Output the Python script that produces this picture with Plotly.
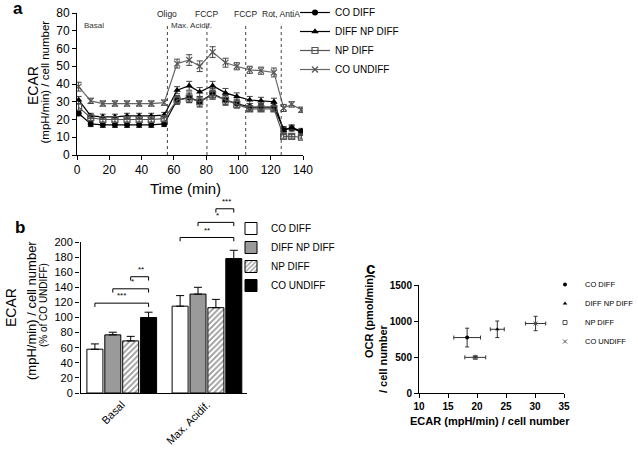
import plotly.graph_objects as go

W, H = 638, 451
FONT = "Arial, Liberation Sans, sans-serif"

# ---------------- Panel a data ----------------
time_min = [1, 8.5, 16, 23.5, 31, 38.5, 46, 54, 62, 69.5, 76, 84, 92, 99, 107, 114, 122, 128, 133, 139]
co_diff = [23.5, 17.5, 17, 17, 17, 17, 17, 17.5, 31, 32.5, 30, 34.5, 31, 29, 27, 27, 27, 14.5, 15, 13]
co_diff_err = [1.5, 1.5, 1.5, 1.5, 1.5, 1.5, 1.5, 1.5, 2.5, 3, 3, 3, 3, 2.5, 2, 2, 2, 1.5, 1.5, 1.5]
diff_np_diff = [31, 22, 21.5, 21.5, 22, 22, 22, 22.5, 36.5, 39, 35.5, 39, 35, 33, 31, 30.5, 30, 14, 15.5, 13.5]
diff_np_diff_err = [2, 1.5, 1.5, 1.5, 1.5, 1.5, 1.5, 1.5, 2, 2.5, 2.5, 2.5, 2.5, 2, 2, 2, 2, 1.5, 1.5, 1.5]
np_diff = [27, 21, 20, 20, 20, 20, 20, 20.5, 31, 32, 30, 34, 31, 28.5, 26, 26, 26, 10.5, 10.5, 10]
np_diff_err = [2, 1.5, 1.5, 1.5, 1.5, 1.5, 1.5, 1.5, 2, 2.5, 2.5, 2.5, 2.5, 2, 1.5, 1.5, 1.5, 1, 1, 1]
co_undiff = [38.5, 30.5, 29, 29, 29, 29, 29, 29.5, 51.5, 53.5, 50, 58, 52, 50, 48, 47.5, 46.5, 26.5, 28.5, 25.5]
co_undiff_err = [2.5, 1.5, 1.5, 1.5, 1.5, 1.5, 1.5, 1.5, 2.5, 3, 3, 3, 2.5, 2, 2, 2, 2.5, 2, 1.5, 1.5]
injection_times = [56, 80.5, 104.5, 126.5]
injection_labels = ["Oligo", "FCCP", "FCCP", "Rot, AntiA"]

# ---------------- Panel b data ----------------
groups = ["Basal", "Max. Acidif."]
bar_names = ["CO DIFF", "DIFF NP DIFF", "NP DIFF", "CO UNDIFF"]
bar_vals = [[58, 115], [77, 131], [69, 113], [100, 178]]
bar_errs = [[7, 14], [3.5, 9], [6, 11], [7, 11]]
# (group index, from bar, to bar, bracket height, label)
sig_brackets = [
    (0, 0, 3, 119, "***"), (0, 1, 3, 138, "*"), (0, 2, 3, 154, "**"),
    (1, 0, 3, 206, "**"), (1, 1, 3, 226, "*"), (1, 2, 3, 244, "***"),
]

# ---------------- Panel c data ----------------
c_names = ["CO DIFF", "DIFF NP DIFF", "NP DIFF", "CO UNDIFF"]
c_ecar = [18.3, 23.5, 19.7, 30.1]
c_ecar_err = [2.3, 1.2, 1.8, 1.75]
c_ocr = [770, 885, 495, 965]
c_ocr_err = [130, 115, 12, 100]


def px_x(p):
    return p / W


def px_y(p):
    return 1 - p / H


fig = go.Figure()

# ---- Panel a traces ----
a_series = [
    ("CO DIFF", co_diff, co_diff_err, dict(symbol="circle", size=6, color="black"), "black"),
    ("DIFF NP DIFF", diff_np_diff, diff_np_diff_err, dict(symbol="triangle-up", size=6.5, color="black"), "black"),
    ("NP DIFF", np_diff, np_diff_err, dict(symbol="square-open", size=6, color="#555", line=dict(width=1.2)), "#555"),
    ("CO UNDIFF", co_undiff, co_undiff_err, dict(symbol="x-thin-open", size=6, color="#555", line=dict(width=1.2, color="#555")), "#666"),
]
for name, vals, errs, mk, lc in a_series:
    fig.add_trace(go.Scatter(
        x=time_min, y=vals, name=name, mode="lines+markers",
        line=dict(color=lc, width=1.2), marker=mk,
        error_y=dict(type="data", array=errs, color="#444", thickness=1, width=3),
        xaxis="x", yaxis="y", legend="legend",
    ))

# ---- Panel b traces ----
bar_styles = [
    dict(color="white", line=dict(color="black", width=1)),
    dict(color="#9a9a9a", line=dict(color="black", width=1)),
    dict(color="white", line=dict(color="black", width=1),
         pattern=dict(shape="/", fgcolor="#333", bgcolor="white", size=4, solidity=0.45)),
    dict(color="black", line=dict(color="black", width=1)),
]
for i, name in enumerate(bar_names):
    fig.add_trace(go.Bar(
        x=groups, y=bar_vals[i], name=name, marker=bar_styles[i],
        error_y=dict(type="data", symmetric=False, array=bar_errs[i], arrayminus=[0, 0],
                     color="black", thickness=1, width=4),
        xaxis="x2", yaxis="y2", legend="legend2",
    ))

# ---- Panel c traces ----
c_markers = [
    dict(symbol="circle", size=4, color="black"),
    dict(symbol="triangle-up", size=4, color="black"),
    dict(symbol="square-open", size=4, color="#555"),
    dict(symbol="x-thin-open", size=4, color="#555", line=dict(width=1, color="#555")),
]
for i, name in enumerate(c_names):
    fig.add_trace(go.Scatter(
        x=[c_ecar[i]], y=[c_ocr[i]], name=name, mode="markers", marker=c_markers[i],
        error_x=dict(type="data", array=[c_ecar_err[i]], color="#333", thickness=1, width=2),
        error_y=dict(type="data", array=[c_ocr_err[i]], color="#333", thickness=1, width=2),
        xaxis="x3", yaxis="y3", legend="legend3",
    ))

shapes = []
annotations = []

# injection lines
for t, lab in zip(injection_times, injection_labels):
    shapes.append(dict(type="line", xref="x", yref="y", x0=t, x1=t, y0=0, y1=73,
                       line=dict(color="#444", width=1, dash="dot")))
    annotations.append(dict(xref="x", yref="y", x=t, y=79.5, text=lab, showarrow=False,
                            font=dict(size=8.5, color="#222", family=FONT), xanchor="center", yanchor="middle"))
annotations.append(dict(xref="x", yref="y", x=3, y=73, text="Basal", showarrow=False,
                        font=dict(size=8, color="#333", family=FONT), xanchor="left", yanchor="middle"))
annotations.append(dict(xref="x", yref="y", x=57, y=73, text="Max. Acidif.", showarrow=False,
                        font=dict(size=8, color="#333", family=FONT), xanchor="left", yanchor="middle"))

# significance brackets (bar positions in category units)
pitch = 0.21
for g, b0, b1, h, lab in sig_brackets:
    xa = g + (b0 - 1.5) * pitch
    xb = g + (b1 - 1.5) * pitch
    shapes.append(dict(type="path", xref="x2", yref="y2",
                       path=f"M {xa},{h-5} L {xa},{h} L {xb},{h} L {xb},{h-5}",
                       line=dict(color="black", width=1)))
    annotations.append(dict(xref="x2", yref="y2", x=(xa + xb) / 2 + (0.02 if b0 > 0 else 0), y=h + 1,
                            text=lab, showarrow=False, font=dict(size=8, color="black", family=FONT),
                            xanchor="center", yanchor="bottom"))

# y axis line for panel b (only up to 200)
shapes.append(dict(type="line", xref="paper", yref="y2", x0=px_x(80.5), x1=px_x(80.5), y0=0, y1=200,
                   line=dict(color="black", width=1)))

# panel letters
for txt, x, y in [("a", 18, 9), ("b", 20, 228), ("c", 370, 268)]:
    annotations.append(dict(xref="paper", yref="paper", x=px_x(x), y=px_y(y), text=f"<b>{txt}</b>",
                            showarrow=False, font=dict(size=17, color="black", family=FONT),
                            xanchor="center", yanchor="middle"))

# axis titles
def rot_title(text, x, y, size, bold=False):
    t = f"<b>{text}</b>" if bold else text
    annotations.append(dict(xref="paper", yref="paper", x=px_x(x), y=px_y(y), text=t, textangle=-90,
                            showarrow=False, font=dict(size=size, color="black", family=FONT),
                            xanchor="center", yanchor="middle"))

rot_title("ECAR", 33, 86, 14)
rot_title("(mpH/min) / cell number", 44.5, 82, 11.5)
rot_title("ECAR", 11, 308, 14)
rot_title("(mpH/min) / cell number", 31, 311, 13)
rot_title("(% of CO UNDIFF)", 43, 305, 10)
rot_title("OCR (pmol/min)", 369, 316, 11, bold=True)
rot_title("/ cell number", 383, 359, 11, bold=True)

annotations.append(dict(xref="paper", yref="paper", x=px_x(185), y=px_y(188), text="Time (min)",
                        showarrow=False, font=dict(size=15, color="black", family=FONT),
                        xanchor="center", yanchor="middle"))
annotations.append(dict(xref="paper", yref="paper", x=px_x(490), y=px_y(421),
                        text="<b>ECAR (mpH/min) / cell number</b>",
                        showarrow=False, font=dict(size=11, color="black", family=FONT),
                        xanchor="center", yanchor="middle"))

axis_common = dict(showgrid=False, zeroline=False, showline=True, linecolor="black", linewidth=1,
                   ticks="outside", ticklen=4, tickcolor="black", tickwidth=1, automargin=False)

fig.update_layout(
    width=W, height=H, margin=dict(l=0, r=0, t=0, b=0, autoexpand=False),
    paper_bgcolor="white", plot_bgcolor="white",
    font=dict(family=FONT, color="black"),
    barmode="group", bargap=0.16, bargroupgap=0.105,
    xaxis=dict(domain=[px_x(77), px_x(303)], range=[0, 140], tickvals=[0, 20, 40, 60, 80, 100, 120, 140],
               tickfont=dict(size=12), anchor="y", **axis_common),
    yaxis=dict(domain=[px_y(155), px_y(13)], range=[0, 80], dtick=10, tickfont=dict(size=12),
               anchor="x", **axis_common),
    xaxis2=dict(domain=[px_x(80), px_x(247)], range=[-0.49, 1.47], tickangle=-45, tickfont=dict(size=11),
                anchor="y2", showgrid=False, zeroline=False, showline=True, linecolor="black", linewidth=1,
                ticks="", automargin=False),
    yaxis2=dict(domain=[px_y(393), px_y(204.25)], range=[0, 250], tickvals=list(range(0, 201, 20)),
                tickfont=dict(size=11), anchor="x2", showgrid=False, zeroline=False, showline=False,
                ticks="outside", ticklen=4, tickcolor="black", tickwidth=1, automargin=False),
    xaxis3=dict(domain=[px_x(419), px_x(564)], range=[10, 35], dtick=5,
                tickfont=dict(size=10, weight="bold"), anchor="y3", **axis_common),
    yaxis3=dict(domain=[px_y(393), px_y(285)], range=[0, 1500], tickvals=[0, 500, 1000, 1500],
                tickfont=dict(size=10, weight="bold"), anchor="x3", **axis_common),
    legend=dict(x=px_x(295), y=px_y(-2), xanchor="left", yanchor="top", font=dict(size=10),
                bgcolor="rgba(0,0,0,0)", itemwidth=30, tracegroupgap=0),
    legend2=dict(x=px_x(231), y=px_y(214), xanchor="left", yanchor="top", font=dict(size=10),
                 bgcolor="rgba(0,0,0,0)", itemwidth=30),
    legend3=dict(x=px_x(545), y=px_y(270), xanchor="left", yanchor="top", font=dict(size=7.5),
                 bgcolor="rgba(0,0,0,0)", itemwidth=30),
    shapes=shapes, annotations=annotations,
)

fig.write_html("out.html", config={"displayModeBar": False},
               post_script="document.body.style.margin='0px';")
